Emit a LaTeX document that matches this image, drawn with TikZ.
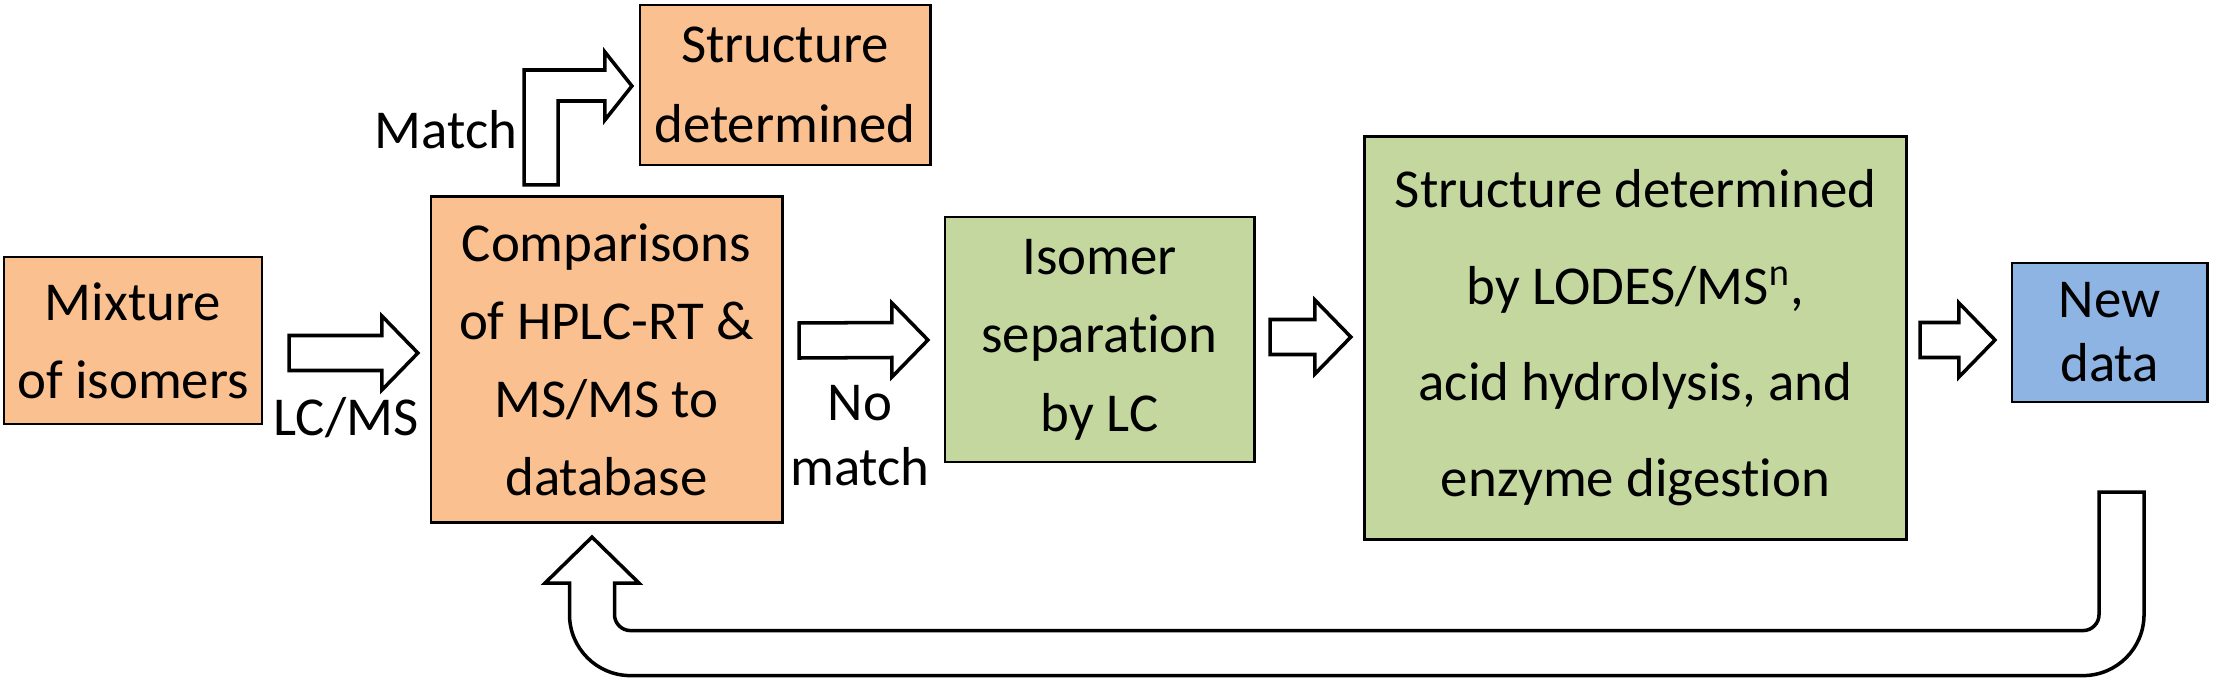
\documentclass[tikz,border=0pt]{standalone}
\usepackage{fontspec}
\setmainfont{Carlito}[Ligatures=NoCommon]
\usetikzlibrary{calc}
\definecolor{orfill}{HTML}{FAC090}
\definecolor{grfill}{HTML}{C4D79E}
\definecolor{blfill}{HTML}{8EB4E3}
\newcommand\myfs[1]{\fontsize{15.6}{#1}\selectfont}
\newcommand\harrow[2]{\draw[blk] ($(#1)+(0,-17.5)$) -- ($(#2)+(-36,-17.5)$) -- ($(#2)+(-36,-37)$) -- (#2) -- ($(#2)+(-36,37)$) -- ($(#2)+(-36,17.5)$) -- ($(#1)+(0,17.5)$) -- cycle;}
\begin{document}
\begin{tikzpicture}[x=0.01cm,y=-0.01cm,
  box/.style={draw=black, line width=0.8pt, inner sep=0pt, outer sep=0pt, align=center},
  blk/.style={draw=black, fill=white, line width=1pt, line join=miter},
  lbl/.style={inner sep=0pt, align=center, font=\myfs{18.5}}]
\useasboundingbox (0,0) rectangle (2213,682);

\node[box, fill=orfill, minimum width=2.58cm, minimum height=1.67cm, font=\myfs{22.2}] (mix) at (133,340.5) {Mixture\\of isomers};
\node[box, fill=orfill, minimum width=3.51cm, minimum height=3.25cm, font=\myfs{22.2}] (comp) at (606.5,359.5) {Comparisons\\of HPLC-RT \&\\MS/MS to\\database};
\node[box, fill=orfill, minimum width=2.90cm, minimum height=1.60cm, font=\myfs{22.7}] (sd) at (785,85) {Structure\\determined};
\node[box, fill=grfill, minimum width=3.09cm, minimum height=2.45cm, font=\myfs{22.3}] (iso) at (1099.5,339.5) {Isomer\\separation\\by LC};
\node[box, fill=grfill, minimum width=5.41cm, minimum height=4.02cm, font=\myfs{27.4}] (big) at (1635.5,338) {Structure determined\\by LODES/MS\textsuperscript{n},\\acid hydrolysis, and\\enzyme digestion};
\node[box, fill=blfill, minimum width=1.95cm, minimum height=1.39cm, font=\myfs{18.2}] (nd) at (2109.5,332.5) {New\\data};

\node[lbl, anchor=base] (lmatch) at (446,149) {Match};
\node[lbl, anchor=base] (llcms) at (346,435) {LC/MS};
\node[lbl] (lnomatch) at (860,436) {No\\match};

\coordinate (a1s) at ($(mix.east)+(27,12.5)$);
\coordinate (a1e) at ($(comp.west)+(-13,-6.5)$);
\coordinate (a2s) at ($(comp.east)+(17,-19)$);
\coordinate (a2e) at ($(iso.west)+(-17,0.5)$);
\coordinate (a3s) at ($(iso.east)+(16,-2.5)$);
\coordinate (a3e) at ($(big.west)+(-14,-1)$);
\coordinate (a4s) at ($(big.east)+(14,2)$);
\coordinate (a4e) at ($(nd.west)+(-17,7.5)$);
\harrow{a1s}{a1e}
\harrow{a2s}{a2e}
\harrow{a3s}{a3e}
\harrow{a4s}{a4e}

% bent arrow to top box
\coordinate (bs) at ($(comp.north)+(-65.5,-12)$);
\coordinate (bt) at ($(sd.west)+(-8,1)$);
\draw[blk] ($(bs)+(-17,0)$) -- ($(bt -| bs)+(-17,-16)$) -- ($(bt)+(-27,-16)$) -- ($(bt)+(-27,-34)$) -- (bt)
  -- ($(bt)+(-27,34)$) -- ($(bt)+(-27,15)$) -- ($(bt -| bs)+(17,15)$) -- ($(bs)+(17,0)$) -- cycle;

% return arrow
\coordinate (rs) at ($(nd.south)+(12,90)$);
\coordinate (rt) at ($(comp.south)+(-14.5,15)$);
\coordinate (rh) at ($(comp.south)+(0,131)$);
\coordinate (rl) at (rt |- rh);
\coordinate (rr) at (rs |- rh);
\draw[blk] (rt) -- ($(rt)+(47,46)$) -- ($(rt)+(22.5,46)$) -- ($(rl)+(22.5,-38.5)$)
  .. controls ($(rl)+(22.5,-29.7)$) and ($(rl)+(29.7,-22.5)$) .. ($(rl)+(38.5,-22.5)$)
  -- ($(rr)+(-38.5,-22.5)$)
  .. controls ($(rr)+(-29.7,-22.5)$) and ($(rr)+(-22.5,-29.7)$) .. ($(rr)+(-22.5,-38.5)$)
  -- ($(rs)+(-22.5,0)$) -- ($(rs)+(22.5,0)$) -- ($(rr)+(22.5,-38.5)$)
  .. controls ($(rr)+(22.5,-4.8)$) and ($(rr)+(-4.8,22.5)$) .. ($(rr)+(-38.5,22.5)$)
  -- ($(rl)+(38.5,22.5)$)
  .. controls ($(rl)+(4.8,22.5)$) and ($(rl)+(-22.5,-4.8)$) .. ($(rl)+(-22.5,-38.5)$)
  -- ($(rt)+(-22.5,46)$) -- ($(rt)+(-47,46)$) -- cycle;
\end{tikzpicture}
\end{document}
